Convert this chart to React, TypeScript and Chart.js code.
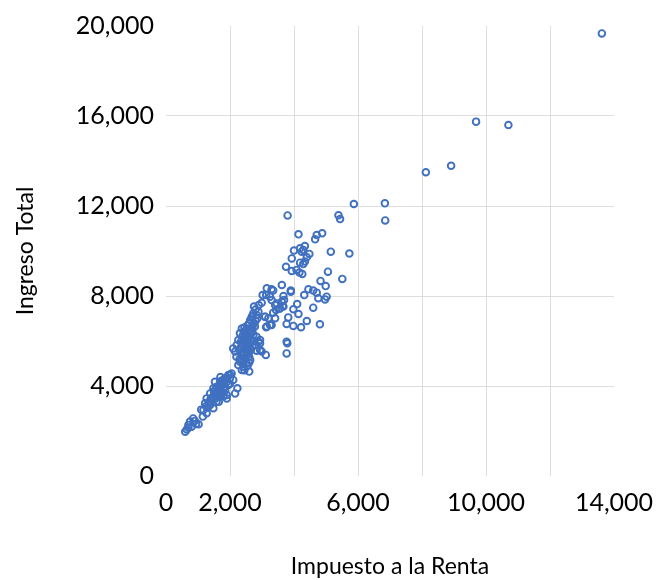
import { useEffect, useRef } from "react";
import { Chart, registerables } from "chart.js";

Chart.register(...registerables);

// [Impuesto a la Renta, Ingreso Total]
const puntos: [number, number][] = [
  [13620, 19670], [9690, 15750], [10700, 15600], [8910, 13790], [8120, 13500],
  [6840, 12120], [6850, 11360], [5870, 12090], [5390, 11590], [5440, 11420],
  [5730, 9890], [5510, 8760], [5150, 9970], [5060, 9080], [4990, 8440],
  [4830, 8670], [4880, 10790], [4710, 10710], [4660, 10520], [4140, 10740],
  [3800, 11580], [4340, 10220], [4190, 10120], [4240, 9970], [4290, 10050],
  [4000, 10020], [4480, 9870], [4400, 9720], [4340, 9530], [4290, 9420],
  [4190, 9480], [3930, 9670], [3750, 9300], [3930, 9110], [4080, 9160],
  [4170, 9040], [4260, 8980], [3620, 8490], [3300, 8300], [3350, 8240],
  [3900, 8240], [4450, 8300], [4600, 8240], [4710, 8150], [4760, 7900],
  [4970, 7850], [5020, 7970], [4320, 8040], [3670, 8000], [3900, 8190],
  [4100, 7640], [4600, 7480], [3980, 7410], [4140, 7200], [3820, 7050],
  [4400, 6890], [4810, 6740], [3770, 6760], [3980, 6670], [4220, 6610],
  [3350, 7260], [3410, 7010], [3090, 7080], [3300, 6710], [3130, 6610],
  [3620, 7750], [3670, 7530], [3410, 7600], [3560, 7450], [3770, 5970],
  [3790, 5900], [3770, 5450], [3120, 5380], [2940, 6040], [2990, 5530],
  [3150, 8340], [3130, 8040], [3020, 8040], [3250, 7970], [3300, 7820],
  [3460, 7670], [3690, 7820], [3650, 7560], [3540, 7450], [3440, 7380],
  [3200, 7010], [3150, 6640], [3250, 6710], [2990, 7700], [2750, 7530],
  [2890, 7300], [2830, 7160], [2730, 7230], [2680, 7080], [2630, 6930],
  [2600, 6790], [2710, 6710], [2780, 6640], [3100, 7080],
  [2370, 6560], [2470, 6420], [2310, 6340], [2520, 6270], [2630, 6340],
  [2730, 6270], [2830, 6190], [2420, 6120], [2260, 6040], [2570, 6040],
  [2680, 5970], [2890, 5970], [2210, 5820], [2370, 5900], [2520, 5870],
  [2780, 5820], [2940, 5900], [2100, 5670], [2470, 5670], [2630, 5670],
  [2830, 5570], [2160, 5530], [2370, 5380], [2570, 5420], [2470, 5230],
  [2630, 5160], [2310, 5080], [2520, 5010], [2260, 4930], [2420, 4860],
  [2370, 4710], [2600, 4640], [2940, 5600],
  [2400, 6250], [2550, 6150], [2650, 6100], [2350, 6000], [2450, 5950],
  [2600, 5800], [2700, 5750], [2500, 5750], [2350, 5750], [2300, 5600],
  [2550, 5550], [2400, 5500], [2650, 6450], [2500, 6500], [2750, 6000],
  [2450, 6350], [2300, 5200], [2500, 5350], [2200, 5300], [2600, 5300],
  [2400, 5050], [2550, 4900], [2450, 4700], [2600, 5900], [2700, 6600],
  [2800, 6900], [2550, 6700],
  [2450, 6600], [2550, 6550], [2600, 6200], [2700, 6400], [2750, 6800],
  [2850, 7000], [2500, 6050], [2400, 5800], [2650, 5600], [2550, 5700],
  [2450, 5450], [2350, 5150], [2600, 5050], [2700, 7100], [2800, 7400],
  [2900, 7600],
  [2050, 4560], [1950, 4490], [1840, 4340], [2000, 4340], [1690, 4190],
  [1900, 4190], [2100, 4270], [1530, 4190], [1740, 4040], [1580, 3970],
  [1840, 3970], [1480, 3900], [1690, 3820], [2230, 3900], [2160, 3670],
  [1900, 3450], [1380, 3670], [1530, 3600], [1690, 3530], [1270, 3450],
  [1430, 3380], [1580, 3300], [1220, 3230], [1380, 3160], [1480, 3010],
  [1170, 2930], [1270, 2790], [1150, 2640],
  [1800, 4100], [1650, 4000], [1950, 4050], [1750, 3700], [1600, 3750],
  [1450, 3500], [1850, 3800], [1550, 3450], [1350, 3300], [1700, 4400],
  [1900, 3600], [1300, 3050], [2000, 4100], [1800, 3550], [1650, 3300],
  [1250, 3100], [1100, 2950],
  [1600, 3650], [1700, 3900], [1800, 3900], [1500, 3750], [1400, 3450],
  [1750, 4250], [1900, 4300], [2000, 4500], [1550, 3850], [1650, 3550],
  [850, 2560], [750, 2420], [700, 2270], [600, 1970], [800, 2190],
  [940, 2310], [650, 2070], [700, 2150], [900, 2450], [1020, 2300],
];

const xTitulo = "Impuesto a la Renta";
const yTitulo = "Ingreso Total";
const xEtiquetas = [0, 2000, 6000, 10000, 14000];
const xMin = 0;
const xMax = 14000;
const xPaso = 2000;
const yMin = 0;
const yMax = 20000;
const yPaso = 4000;

const fmt = (v: number) => v.toLocaleString("en-US");

const sinRelleno = (s: any) => {
  s.paddingTop = 0;
  s.paddingBottom = 0;
  s.paddingLeft = 0;
  s.paddingRight = 0;
};

export default function App() {
  const ref = useRef<HTMLCanvasElement>(null);

  useEffect(() => {
    document.body.style.margin = "0";
    if (!ref.current) return;
    const gridColor = (min: number, max: number) => (ctx: any) => {
      const v = ctx.tick ? ctx.tick.value : null;
      if (v === min || v === max) return "rgba(0,0,0,0)";
      return "#dedede";
    };
    const chart = new Chart(ref.current, {
      type: "scatter",
      data: {
        datasets: [
          {
            data: puntos.map(([x, y]) => ({ x, y })),
            pointRadius: 3.3,
            pointHoverRadius: 3.3,
            pointBorderWidth: 1.9,
            pointBorderColor: "#4070C0",
            pointBackgroundColor: "rgba(0,0,0,0)",
          },
        ],
      },
      options: {
        animation: false,
        responsive: false,
        devicePixelRatio: 1,
        layout: { padding: { top: 26, right: 44, left: 0, bottom: 0 } },
        plugins: { legend: { display: false }, tooltip: { enabled: false } },
        scales: {
          x: {
            type: "linear",
            min: xMin,
            max: xMax,
            border: { display: false },
            grid: { color: gridColor(xMin, xMax), drawTicks: false, lineWidth: 1 },
            ticks: {
              stepSize: xPaso,
              autoSkip: false,
              maxRotation: 0,
              padding: 12,
              color: "#000",
              font: { family: "Lato", size: 25 },
              callback: (v: any) => (xEtiquetas.includes(Number(v)) ? fmt(Number(v)) : ""),
            },
            title: {
              display: true,
              text: xTitulo,
              color: "#000",
              font: { family: "Lato", size: 23 },
              padding: { top: 0, bottom: 0 },
            },
            afterFit: (s: any) => {
              s.height = 104;
              sinRelleno(s);
            },
          },
          y: {
            type: "linear",
            min: yMin,
            max: yMax,
            border: { display: false },
            grid: { color: gridColor(yMin, yMax), drawTicks: false, lineWidth: 1 },
            ticks: {
              stepSize: yPaso,
              padding: 12,
              color: "#000",
              font: { family: "Lato", size: 25 },
              callback: (v: any) => fmt(Number(v)),
            },
            title: {
              display: true,
              text: yTitulo,
              color: "#000",
              font: { family: "Lato", size: 23 },
              padding: { top: 12, bottom: 0 },
            },
            afterFit: (s: any) => {
              s.width = 166;
              sinRelleno(s);
            },
          },
        },
      },
    });
    return () => chart.destroy();
  }, []);

  return <canvas ref={ref} width={658} height={580} style={{ display: "block" }} />;
}
